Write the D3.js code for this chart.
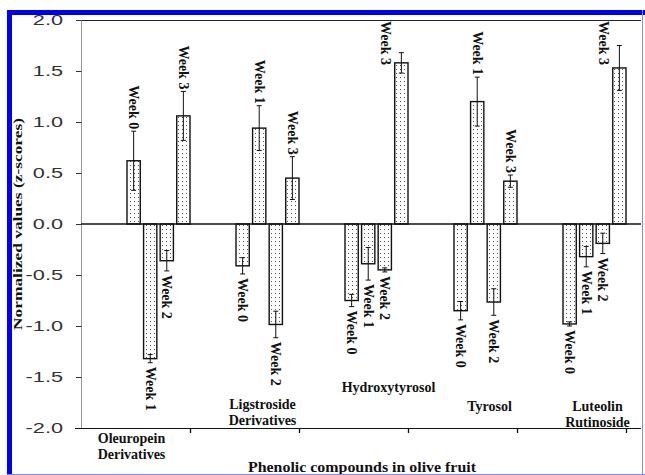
<!DOCTYPE html>
<html>
<head>
<meta charset="utf-8">
<script src="https://cdn.jsdelivr.net/npm/d3@7"></script>
<style>
  html, body { margin: 0; padding: 0; background: #fff; }
  svg { display: block; }
</style>
</head>
<body>
<svg id="chart" width="645" height="475"></svg>
<script>
// ---------------- data ----------------
const categories = ["Oleuropein Derivatives", "Ligstroside Derivatives", "Hydroxytyrosol", "Tyrosol", "Luteolin Rutinoside"];
const weeks = ["Week 0", "Week 1", "Week 2", "Week 3"];
const week0 = [0.62, -0.41, -0.75, -0.85, -0.98];
const week0Err = [0.29, 0.08, 0.06, 0.09, 0.02];
const week1 = [-1.32, 0.94, -0.39, 1.20, -0.32];
const week1Err = [0.04, 0.22, 0.16, 0.24, 0.10];
const week2 = [-0.36, -0.985, -0.45, -0.765, -0.19];
const week2Err = [0.10, 0.13, 0.02, 0.13, 0.10];
const week3 = [1.06, 0.45, 1.58, 0.42, 1.53];
const week3Err = [0.24, 0.21, 0.10, 0.06, 0.22];
const yTicks = [-2.0, -1.5, -1.0, -0.5, 0.0, 0.5, 1.0, 1.5, 2.0];
const yTitle = "Normalized values (z-scores)";
const xTitle = "Phenolic compounds in olive fruit";

const seriesValues = [week0, week1, week2, week3];
const seriesErrors = [week0Err, week1Err, week2Err, week3Err];

// ---------------- layout ----------------
const svg = d3.select("#chart");
const plotLeft = 81, plotRight = 641, catRight = 626, plotTop = 20, plotBottom = 428;
const serif = "'Liberation Serif', 'DejaVu Serif', serif";
const sans = "'Liberation Sans', Arial, sans-serif";

const y = d3.scaleLinear().domain([-2, 2]).range([plotBottom, plotTop]);
const x0 = d3.scaleBand().domain(categories).range([plotLeft, catRight]).paddingInner(0).paddingOuter(0);
const bw = x0.bandwidth();
const x1 = d3.scaleBand().domain(weeks).range([bw - 63, bw]).paddingInner(0.2).paddingOuter(0);

// pattern for bars
const defs = svg.append("defs");
const pat = defs.append("pattern").attr("id", "dots").attr("patternUnits", "userSpaceOnUse")
  .attr("width", 4).attr("height", 4);
pat.append("rect").attr("width", 4).attr("height", 4).attr("fill", "#fff");
pat.append("rect").attr("x", 1).attr("y", 1).attr("width", 1).attr("height", 1).attr("fill", "#555");

// frame line at top
svg.append("line").attr("x1", plotLeft).attr("x2", plotRight).attr("y1", plotTop + 0.5).attr("y2", plotTop + 0.5)
  .attr("stroke", "#222").attr("stroke-width", 1);

// y axis
const yAxis = d3.axisLeft(y).tickValues(yTicks).tickFormat(d3.format(".1f")).tickSize(5).tickPadding(6);
const gy = svg.append("g").attr("transform", `translate(${plotLeft},0)`).call(yAxis);
gy.select(".domain").attr("stroke", "#999").attr("d", `M0.5,${plotTop}V${plotBottom}`);
gy.selectAll(".tick line").attr("stroke", "#333").attr("x1", 0.5).attr("x2", -5);
gy.selectAll(".tick text")
  .attr("x", null)
  .attr("font-family", sans).attr("font-size", 14).attr("fill", "#333")
  .attr("transform", "translate(-18,0) scale(1.55,1)")
  .text(d => d3.format(".1f")(d).replace("−", "-"));

// x axis (band boundary ticks)
const xb = d3.scaleLinear().domain([0, categories.length]).range([plotLeft, catRight]);
const xAxis = d3.axisBottom(xb).tickValues(d3.range(1, categories.length + 1)).tickFormat("").tickSize(5);
const gx = svg.append("g").attr("transform", `translate(0,${plotBottom})`).call(xAxis);
gx.select(".domain").attr("d", `M${plotLeft - 6},0.5H${plotRight}`).attr("stroke", "#111");
gx.selectAll(".tick line").attr("stroke", "#111").attr("stroke-width", 1.3);

// bars
const groups = svg.append("g").selectAll("g").data(categories).join("g")
  .attr("transform", d => `translate(${x0(d)},0)`);

const barData = (c, ci) => weeks.map((w, wi) => ({
  cat: c, ci, week: w, wi, v: seriesValues[wi][ci], e: seriesErrors[wi][ci]
}));

groups.selectAll("rect.bar").data((c, ci) => barData(c, ci)).join("rect")
  .attr("class", "bar")
  .attr("x", d => x1(d.week))
  .attr("width", x1.bandwidth())
  .attr("y", d => Math.min(y(d.v), y(0)))
  .attr("height", d => Math.abs(y(d.v) - y(0)))
  .attr("fill", "url(#dots)")
  .attr("stroke", "#111").attr("stroke-width", 1.4);

// zero line
svg.append("line").attr("x1", plotLeft).attr("x2", plotRight).attr("y1", y(0)).attr("y2", y(0))
  .attr("stroke", "#111").attr("stroke-width", 1.4);

// error bars
const eb = groups.selectAll("g.err").data((c, ci) => barData(c, ci)).join("g").attr("class", "err")
  .attr("stroke", "#111").attr("stroke-width", 1);
const cxOf = d => x1(d.week) + x1.bandwidth() / 2;
eb.append("line")
  .attr("x1", cxOf).attr("x2", cxOf)
  .attr("y1", d => y(d.v - d.e)).attr("y2", d => y(d.v + d.e));
eb.append("line")
  .attr("x1", d => cxOf(d) - 2.5).attr("x2", d => cxOf(d) + 2.5)
  .attr("y1", d => y(d.v + d.e)).attr("y2", d => y(d.v + d.e));
eb.append("line")
  .attr("x1", d => cxOf(d) - 2.5).attr("x2", d => cxOf(d) + 2.5)
  .attr("y1", d => y(d.v - d.e)).attr("y2", d => y(d.v - d.e));

// week labels (rotated, read top to bottom)
groups.selectAll("text.wk").data((c, ci) => barData(c, ci)).join("text")
  .attr("class", "wk")
  .attr("font-family", serif).attr("font-weight", "bold").attr("font-size", 14).attr("fill", "#111")
  .attr("dominant-baseline", "central")
  .text(d => d.week)
  .each(function (d) {
    const t = d3.select(this);
    const len = this.getComputedTextLength();
    let cx = cxOf(d);
    let yy, anchor;
    if (d.v >= 0) {
      const end = y(d.v + d.e) - 2;
      if (end - len < plotTop + 2) { yy = plotTop + 1; anchor = "start"; cx -= 16; }
      else { yy = end; anchor = "end"; }
    } else {
      yy = y(d.v - d.e) + 4; anchor = "start";
    }
    t.attr("text-anchor", anchor).attr("transform", `translate(${cx},${yy}) rotate(90)`);
  });

// category labels
const catLayout = [
  { dx: -27, ys: [443, 459] },
  { dx: -5, ys: [409, 425] },
  { dx: 12, ys: [392] },
  { dx: 4, ys: [411] },
  { dx: 3, ys: [411, 427] }
];
const catLines = [["Oleuropein", "Derivatives"], ["Ligstroside", "Derivatives"], ["Hydroxytyrosol"], ["Tyrosol"], ["Luteolin", "Rutinoside"]];
categories.forEach((c, ci) => {
  const gc = x0(c) + bw - 63 / 2 + catLayout[ci].dx;
  catLines[ci].forEach((ln, li) => {
    svg.append("text").attr("x", gc).attr("y", catLayout[ci].ys[li])
      .attr("text-anchor", "middle").attr("font-family", serif).attr("font-weight", "bold")
      .attr("font-size", 14).attr("fill", "#111").text(ln);
  });
});

// axis titles
svg.append("text").attr("transform", `translate(17,${y(0)}) rotate(-90)`)
  .attr("text-anchor", "middle").attr("dominant-baseline", "central")
  .attr("font-family", serif).attr("font-weight", "bold")
  .attr("font-size", 13).attr("fill", "#111")
  .attr("textLength", 212).attr("lengthAdjust", "spacingAndGlyphs")
  .text(yTitle);
svg.append("text").attr("x", 362).attr("y", 472)
  .attr("text-anchor", "middle").attr("font-family", serif).attr("font-weight", "bold")
  .attr("font-size", 15).attr("fill", "#111")
  .attr("textLength", 228).attr("lengthAdjust", "spacingAndGlyphs")
  .text(xTitle);

// blue border
svg.append("rect").attr("x", 7).attr("y", 10).attr("width", 638).attr("height", 5).attr("fill", "#0000f0");
svg.append("rect").attr("x", 7).attr("y", 10).attr("width", 5).attr("height", 465).attr("fill", "#0000f0");
svg.append("line").attr("x1", 642.5).attr("x2", 642.5).attr("y1", 10).attr("y2", 475).attr("stroke", "#8888ff");
svg.append("line").attr("x1", 7).attr("x2", 645).attr("y1", 474.5).attr("y2", 474.5).attr("stroke", "#8888ff");
</script>
</body>
</html>
